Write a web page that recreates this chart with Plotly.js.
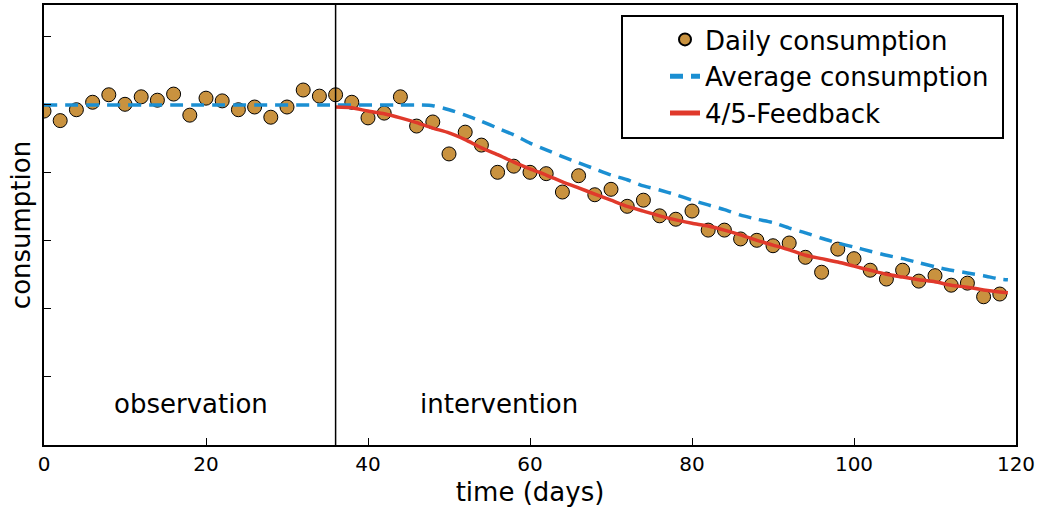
<!DOCTYPE html>
<html>
<head>
<meta charset="utf-8">
<script src="https://cdn.plot.ly/plotly-3.0.1.min.js"></script>
<style>html,body{margin:0;padding:0;background:#fff;}#chart{width:1039px;height:514px;}</style>
</head>
<body>
<div id="chart"></div>
<script>
// Daily consumption, measured every 2 days (days 0..118)
const dailyDays = [0,2,4,6,8,10,12,14,16,18,20,22,24,26,28,30,32,34,36,38,40,42,44,46,48,50,52,54,56,58,60,62,64,66,68,70,72,74,76,78,80,82,84,86,88,90,92,94,96,98,100,102,104,106,108,110,112,114,116,118];
const dailyValues = [4.91,4.77,4.93,5.04,5.15,5.01,5.12,5.07,5.16,4.85,5.10,5.06,4.93,4.97,4.82,4.97,5.22,5.13,5.15,5.04,4.81,4.88,5.12,4.69,4.75,4.28,4.60,4.41,4.01,4.10,4.01,3.99,3.72,3.96,3.68,3.76,3.51,3.60,3.37,3.32,3.44,3.16,3.16,3.03,3.01,2.93,2.97,2.76,2.54,2.88,2.74,2.57,2.44,2.57,2.41,2.49,2.35,2.38,2.18,2.22];

// Average consumption
const avgDays = [0,36,44,46,48,50,52,54,56,58,60,62,64,66,68,70,72,74,76,78,80,82,84,86,88,90,92,94,96,98,100,102,104,106,108,110,112,114,116,118,119];
const avgValues = [5.00,5.00,5.00,5.00,4.99,4.93,4.85,4.76,4.66,4.56,4.44,4.34,4.24,4.15,4.06,3.97,3.90,3.81,3.75,3.68,3.60,3.53,3.46,3.38,3.32,3.27,3.19,3.12,3.04,2.97,2.91,2.85,2.79,2.74,2.68,2.62,2.57,2.53,2.49,2.44,2.43];

// 4/5-Feedback model
const fbDays = [36,38,40,42,44,46,48,50,52,54,56,58,60,62,64,66,68,70,72,74,76,78,80,82,84,86,88,90,92,94,96,98,100,102,104,106,108,110,112,114,116,118,119];
const fbValues = [4.97,4.96,4.91,4.87,4.81,4.74,4.66,4.59,4.49,4.37,4.27,4.16,4.06,3.97,3.87,3.78,3.69,3.60,3.51,3.44,3.37,3.31,3.26,3.22,3.16,3.09,3.01,2.94,2.87,2.79,2.74,2.69,2.63,2.57,2.51,2.47,2.43,2.40,2.35,2.32,2.28,2.25,2.24];

const xTicks = [0,20,40,60,80,100,120];
const yTicks = [1,2,3,4,5,6];
const interventionStart = 36;

const FONT = 'DejaVu Sans, sans-serif';

const traces = [
  {
    x: dailyDays, y: dailyValues, type: 'scatter', mode: 'markers', name: 'Daily consumption',
    marker: {size: 14, color: '#C9923F', line: {color: '#000', width: 1}}
  },
  {
    x: avgDays, y: avgValues, type: 'scatter', mode: 'lines', name: 'Average consumption',
    line: {color: '#1B8FD2', width: 3.5, dash: '13px,8px', shape: 'spline', smoothing: 0.6}
  },
  {
    x: fbDays, y: fbValues, type: 'scatter', mode: 'lines', name: '4/5-Feedback',
    line: {color: '#E0392B', width: 3.5, shape: 'spline', smoothing: 0.6}
  }
];

const layout = {
  width: 1039, height: 514,
  margin: {l: 44, r: 23, t: 5, b: 69},
  paper_bgcolor: '#fff', plot_bgcolor: '#fff',
  font: {family: FONT, color: '#000', size: 20},
  showlegend: true,
  legend: {
    x: (665 - 44) / 972, y: (445 - 16) / 440, xanchor: 'left', yanchor: 'top',
    bgcolor: 'rgba(0,0,0,0)', borderwidth: 0,
    font: {family: FONT, size: 26, color: '#000'},
    itemsizing: 'constant'
  },
  xaxis: {
    range: [0, 120], tickvals: xTicks, ticktext: xTicks.map(String),
    ticks: 'inside', ticklen: 7, tickwidth: 1, tickcolor: '#000',
    showline: true, linecolor: '#000', linewidth: 2, mirror: true,
    showgrid: false, zeroline: false,
    tickfont: {family: FONT, size: 20, color: '#000'},
    title: {text: 'time (days)', font: {family: FONT, size: 26, color: '#000'}, standoff: 8}
  },
  yaxis: {
    range: [0, 6.47], tickvals: yTicks, showticklabels: false,
    ticks: 'inside', ticklen: 7, tickwidth: 1, tickcolor: '#000',
    showline: true, linecolor: '#000', linewidth: 2, mirror: true,
    showgrid: false, zeroline: false,
    title: {text: 'consumption', font: {family: FONT, size: 26, color: '#000'}, standoff: 4}
  },
  shapes: [
    {type: 'line', xref: 'x', yref: 'paper', x0: interventionStart, x1: interventionStart, y0: 0, y1: 1,
     line: {color: '#000', width: 1.5}},
    {type: 'rect', xref: 'paper', yref: 'paper',
     x0: (622 - 44) / 972, x1: (1003 - 44) / 972, y0: (445 - 138) / 440, y1: (445 - 16) / 440,
     line: {color: '#000', width: 2}, fillcolor: 'rgba(0,0,0,0)'}
  ],
  annotations: [
    {x: 18.2, y: 0.6, xref: 'x', yref: 'y', text: 'observation', showarrow: false,
     font: {family: FONT, size: 26, color: '#000'}},
    {x: 56.2, y: 0.6, xref: 'x', yref: 'y', text: 'intervention', showarrow: false,
     font: {family: FONT, size: 26, color: '#000'}}
  ]
};

Plotly.newPlot('chart', traces, layout, {displayModeBar: false, staticPlot: true});
</script>
</body>
</html>
